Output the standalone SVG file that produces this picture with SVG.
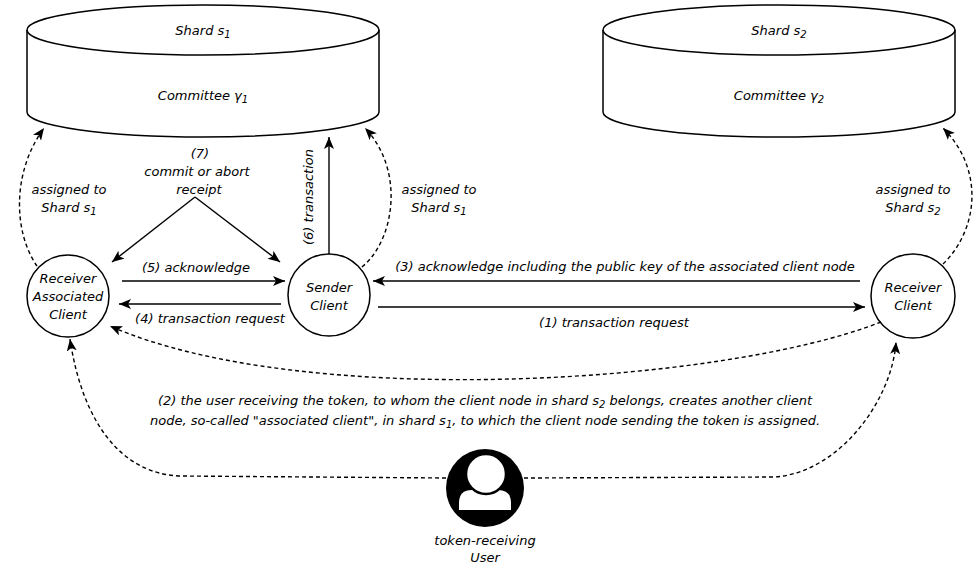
<svg xmlns="http://www.w3.org/2000/svg" width="974" height="568" viewBox="0 0 974 568">
<defs>
<marker id="arr" markerUnits="userSpaceOnUse" markerWidth="14" markerHeight="12" refX="12" refY="5" orient="auto">
<path d="M0,0 L12,5 L0,10 L3,5 Z" fill="#000"/>
</marker>
</defs>
<style>
text{font-family:"DejaVu Sans","Liberation Sans",sans-serif;font-size:13px;font-style:italic;fill:#000;text-anchor:middle}
.sub{font-size:10px}
.shape{fill:#fff;stroke:#000;stroke-width:1.5}
.ln{fill:none;stroke:#000;stroke-width:1.4}
.dash{fill:none;stroke:#000;stroke-width:1.4;stroke-dasharray:4 3}
</style>
<rect width="974" height="568" fill="#fff"/>

<g id="shard1">
<path class="shape" d="M27,30 L27,112 A176,25 0 0 0 379,112 L379,30 A176,25 0 0 0 27,30 Z"/>
<path class="shape" fill="none" d="M27,30 A176,25 0 0 0 379,30"/>
<text x="203" y="35">Shard s<tspan class="sub" dy="3">1</tspan></text>
<text x="203" y="100">Committee γ<tspan class="sub" dy="3">1</tspan></text>
</g>

<g id="shard2">
<path class="shape" d="M603,30 L603,112 A176,25 0 0 0 955,112 L955,30 A176,25 0 0 0 603,30 Z"/>
<path class="shape" fill="none" d="M603,30 A176,25 0 0 0 955,30"/>
<text x="779" y="35">Shard s<tspan class="sub" dy="3">2</tspan></text>
<text x="779" y="100">Committee γ<tspan class="sub" dy="3">2</tspan></text>
</g>

<g id="receiver-associated-client">
<circle class="shape" cx="68" cy="296" r="41"/>
<text x="68" y="283">Receiver</text>
<text x="68" y="301">Associated</text>
<text x="68" y="319">Client</text>
</g>

<g id="sender-client">
<circle class="shape" cx="329" cy="295" r="41"/>
<text x="329" y="292">Sender</text>
<text x="329" y="310">Client</text>
</g>

<g id="receiver-client">
<circle class="shape" cx="913" cy="296" r="42"/>
<text x="913" y="292">Receiver</text>
<text x="913" y="310">Client</text>
</g>

<g id="user">
<circle cx="485" cy="488" r="39" fill="#000"/>
<path d="M459,510 L459,503 Q459,490 472,490 L498,490 Q511,490 511,503 L511,510 Z" fill="#fff"/>
<circle cx="486" cy="474" r="20" fill="#fff" stroke="#000" stroke-width="2.5"/>
<text x="485" y="545">token-receiving</text>
<text x="485" y="562">User</text>
</g>

<g id="connectors">
<line class="ln" x1="122" y1="281" x2="285" y2="281" marker-end="url(#arr)"/>
<line class="ln" x1="281" y1="304" x2="119" y2="304" marker-end="url(#arr)"/>
<line class="ln" x1="860" y1="281" x2="373" y2="281" marker-end="url(#arr)"/>
<line class="ln" x1="378" y1="307" x2="865" y2="307" marker-end="url(#arr)"/>
<line class="ln" x1="329" y1="254" x2="329" y2="137" marker-end="url(#arr)"/>
<line class="ln" x1="195" y1="197" x2="112" y2="262" marker-end="url(#arr)"/>
<line class="ln" x1="195" y1="197" x2="280" y2="262" marker-end="url(#arr)"/>
<path class="dash" d="M37,266 C15,235 10,175 44,128" marker-end="url(#arr)"/>
<path class="dash" d="M362,267 C395,240 405,170 365,128" marker-end="url(#arr)"/>
<path class="dash" d="M943,264 C978,230 985,170 943,128" marker-end="url(#arr)"/>
<path class="dash" d="M881,322 C720,385 300,410 110,326" marker-end="url(#arr)"/>
<path class="dash" d="M446,478 L180,476 C120,474 82,420 70,339" marker-end="url(#arr)"/>
<path class="dash" d="M524,478 L775,477 C840,472 892,400 896,342" marker-end="url(#arr)"/>

<text x="196" y="272">(5) acknowledge</text>
<text x="210" y="323">(4) transaction request</text>
<text x="625" y="271">(3) acknowledge including the public key of the associated client node</text>
<text x="614" y="327">(1) transaction request</text>
<text x="200" y="158">(7)</text>
<text x="197" y="176">commit or abort</text>
<text x="199" y="194">receipt</text>
<text transform="translate(313,197) rotate(-90)" x="0" y="0">(6) transaction</text>
<text x="69" y="194">assigned to</text>
<text x="69" y="212">Shard s<tspan class="sub" dy="3">1</tspan></text>
<text x="439" y="194">assigned to</text>
<text x="439" y="212">Shard s<tspan class="sub" dy="3">1</tspan></text>
<text x="913" y="194">assigned to</text>
<text x="913" y="212">Shard s<tspan class="sub" dy="3">2</tspan></text>
<text x="485" y="405">(2) the user receiving the token, to whom the client node in shard s<tspan class="sub" dy="3">2</tspan><tspan dy="-3"> belongs, creates another client</tspan></text>
<text x="485" y="425">node, so-called "associated client", in shard s<tspan class="sub" dy="3">1</tspan><tspan dy="-3">, to which the client node sending the token is assigned.</tspan></text>
</g>
</svg>
